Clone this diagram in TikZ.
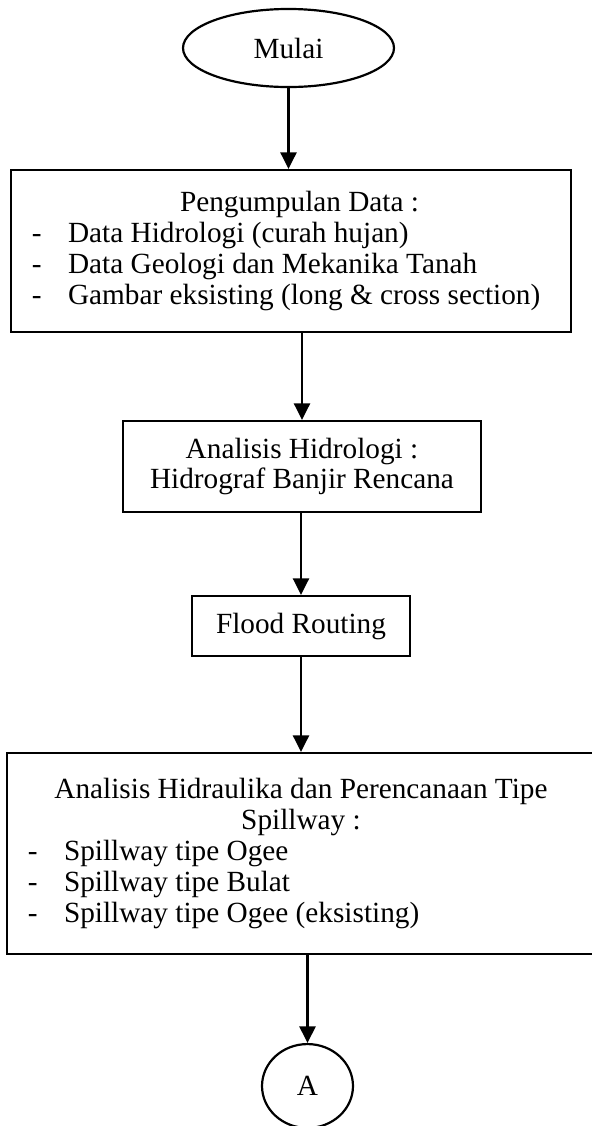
\documentclass[tikz,border=0pt]{standalone}
\usepackage{fontspec}
\setmainfont{Liberation Serif}
\usepackage{tikz}
\usetikzlibrary{shapes.geometric,arrows.meta}
\newcommand{\butir}[1]{\makebox[14.8pt][l]{-}#1}
\newcommand{\judul}[2]{\makebox[#1][c]{#2}}
\tikzset{
    proses/.style={draw, rectangle, line width=0.9pt, inner sep=0pt, font=\fontsize{12}{12.7}\selectfont},
    mulaiselesai/.style={draw, ellipse, line width=0.9pt, inner sep=0pt, font=\fontsize{12}{12.7}\selectfont},
    panah/.style={-{Triangle[width=6.6pt,length=6.8pt]}, line width=0.9pt},
}

\begin{document}
\begin{tikzpicture}[x=0.41pt, y=-0.41pt]
    \useasboundingbox (0,0) rectangle (591,1126);
    \node[mulaiselesai, minimum width=86.5pt, minimum height=32pt] (mulai) at (288.5,48) {Mulai};
    \node[proses, minimum width=229.6pt, minimum height=66.4pt, align=left] (data) at (291,251)
        {\judul{212.4pt}{\hspace*{7pt}Pengumpulan Data :}\\
         \butir{Data Hidrologi (curah hujan)}\\
         \butir{Data Geologi dan Mekanika Tanah}\\
         \butir{Gambar eksisting (long \& cross section)}};
    \node[proses, minimum width=146.8pt, minimum height=37.3pt, align=center] (hidro) at (302,466.5)
        {Analisis Hidrologi :\\ Hidrograf Banjir Rencana};
    \node[proses, minimum width=89.4pt, minimum height=24.6pt] (flood) at (301,626) {Flood Routing};
    \node[proses, minimum width=241.1pt, minimum height=82.4pt, align=left] (spill) at (301,853.5)
        {\judul{223.9pt}{Analisis Hidraulika dan Perencanaan Tipe}\\
         \judul{223.9pt}{Spillway :}\\
         \butir{Spillway tipe Ogee}\\
         \butir{Spillway tipe Bulat}\\
         \butir{Spillway tipe Ogee (eksisting)}};
    \node[mulaiselesai, minimum width=37.3pt, minimum height=34.4pt] (konektor) at (307.5,1086) {A};

    \draw[panah] (mulai.south) -- (mulai.south |- data.north);
    \draw[panah] (hidro.north |- data.south) -- (hidro.north);
    \draw[panah] (flood.north |- hidro.south) -- (flood.north);
    \draw[panah] (flood.south) -- (flood.south |- spill.north);
    \draw[panah] (konektor.north |- spill.south) -- (konektor.north);
\end{tikzpicture}
\end{document}
